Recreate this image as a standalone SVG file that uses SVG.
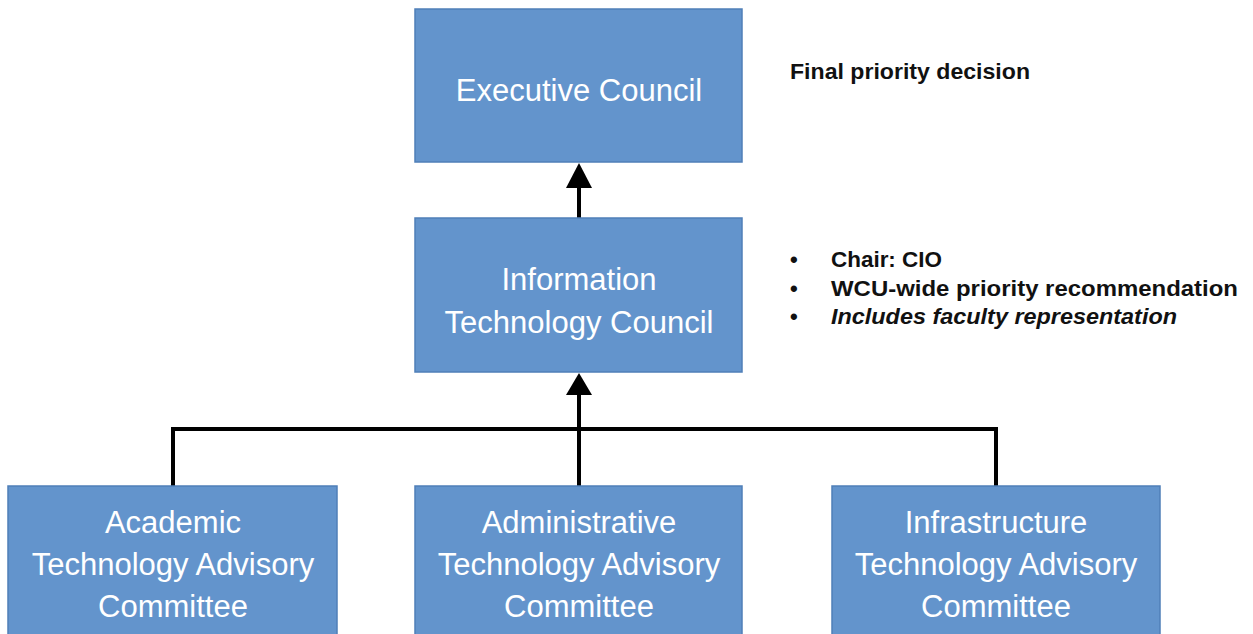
<svg xmlns="http://www.w3.org/2000/svg" width="1253" height="634" viewBox="0 0 1253 634">
<defs>
<style>
.box{fill:#6394cc;stroke:#4f7fb8;stroke-width:1.5}
.bt{font-family:"Liberation Sans",Arial,sans-serif;font-size:31px;fill:#ffffff;text-anchor:middle}
.note{font-family:"Liberation Sans",Arial,sans-serif;font-size:22px;font-weight:bold;fill:#111111}
.conn{fill:none;stroke:#000000;stroke-width:4}
</style>
</defs>
<rect width="1253" height="634" fill="#ffffff"/>
<g id="connectors">
<line class="conn" x1="579" y1="218" x2="579" y2="187"/>
<path d="M566,188 L592,188 L579,163 Z" fill="#000000"/>
<line class="conn" x1="579" y1="486" x2="579" y2="393"/>
<path d="M566,395 L592,395 L579,373 Z" fill="#000000"/>
<polyline class="conn" points="173,486 173,429 996,429 996,486"/>
</g>
<g id="executive-council">
<rect class="box" x="415" y="9" width="327" height="153"/>
<text class="bt" x="579" y="101">Executive Council</text>
</g>
<g id="it-council">
<rect class="box" x="415" y="218" width="327" height="154"/>
<text class="bt" x="579" y="290">Information</text>
<text class="bt" x="579" y="333">Technology Council</text>
</g>
<g id="academic">
<rect class="box" x="8" y="486" width="329" height="160"/>
<text class="bt" x="173" y="533">Academic</text>
<text class="bt" x="173" y="575">Technology Advisory</text>
<text class="bt" x="173" y="617">Committee</text>
</g>
<g id="administrative">
<rect class="box" x="415" y="486" width="327" height="160"/>
<text class="bt" x="579" y="533">Administrative</text>
<text class="bt" x="579" y="575">Technology Advisory</text>
<text class="bt" x="579" y="617">Committee</text>
</g>
<g id="infrastructure">
<rect class="box" x="832" y="486" width="328" height="160"/>
<text class="bt" x="996" y="533">Infrastructure</text>
<text class="bt" x="996" y="575">Technology Advisory</text>
<text class="bt" x="996" y="617">Committee</text>
</g>
<g id="notes">
<text class="note" x="790" y="79" textLength="240" lengthAdjust="spacingAndGlyphs">Final priority decision</text>
<text class="note" x="790" y="267">•</text>
<text class="note" x="831" y="267" textLength="111" lengthAdjust="spacingAndGlyphs">Chair: CIO</text>
<text class="note" x="790" y="296">•</text>
<text class="note" x="831" y="296" textLength="407" lengthAdjust="spacingAndGlyphs">WCU-wide priority recommendation</text>
<text class="note" x="790" y="324">•</text>
<text class="note" x="831" y="324" font-style="italic" textLength="346" lengthAdjust="spacingAndGlyphs">Includes faculty representation</text>
</g>
</svg>
